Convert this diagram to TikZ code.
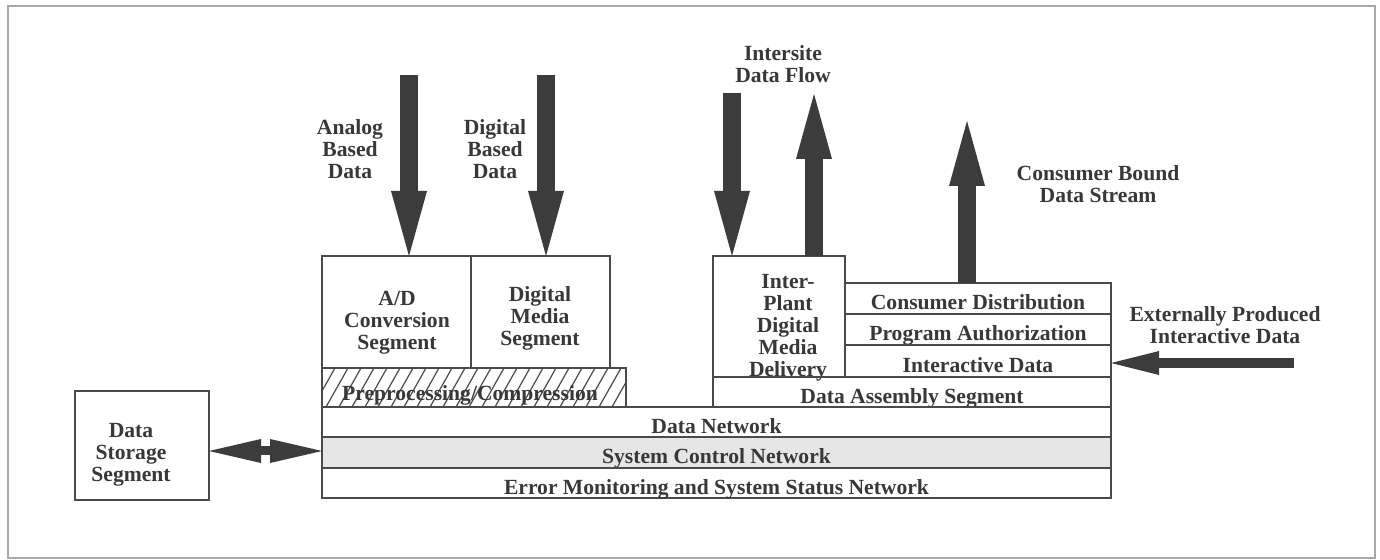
\documentclass[tikz,border=0pt]{standalone}
\usepackage{fontspec}
\setmainfont{Liberation Serif}
\usetikzlibrary{arrows.meta}
\definecolor{ink}{HTML}{383838}
\definecolor{edge}{HTML}{4A4A4A}
\definecolor{framec}{HTML}{A8A8A8}
\definecolor{arrowc}{HTML}{3C3C3C}
\definecolor{shade}{HTML}{E6E6E6}
\begin{document}
\begin{tikzpicture}[x=0.5pt,y=-0.5pt,
  every node/.style={font=\bfseries\fontsize{10.8}{11}\selectfont, text=ink},
  box/.style={draw=edge, line width=0.9pt, inner sep=0pt, outer sep=0pt},
  rowbox/.style={box, text height=11.5pt, text depth=0pt},
  lbl/.style={align=center, inner sep=0pt},
  hatchline/.style={draw=edge, line width=0.6pt},
  bigarrow/.style={draw=arrowc, line width=9pt, -{Triangle[width=18pt,length=32.5pt,line width=0pt]}},
  medarrow/.style={draw=arrowc, line width=5pt, -{Triangle[width=12pt,length=24pt,line width=0pt]}},
  dblarrow/.style={draw=arrowc, line width=4.5pt, {Triangle[width=12pt,length=26pt,line width=0pt]}-{Triangle[width=12pt,length=26pt,line width=0pt]}},
  framebox/.style={draw=framec, line width=1pt}
]
\useasboundingbox (0,0) rectangle (1380,560);
\fill[white] (0,0) rectangle (1380,560);
\draw[framebox] (8,6) rectangle (1375,558);

% left storage
\node[box, minimum width=67pt, minimum height=54.5pt] (ds) at (142,445.5) {};
\node[lbl] (dsT) at (131,455) {Data\\Storage\\Segment};

% input segments
\node[box, minimum width=74.5pt, minimum height=56pt] (ad) at (396.5,312) {};
\node[lbl] (adT) at (397,323) {A/D\\Conversion\\Segment};
\node[box, minimum width=69.5pt, minimum height=56pt] (dm) at (540.5,312) {};
\node[lbl] (dmT) at (540,318) {Digital\\Media\\Segment};

% preprocessing (hatched)
\node[box, minimum width=152pt, minimum height=19.5pt] (pre) at (474,387.5) {};
\begin{scope}
  \clip (pre.south west) rectangle (pre.north east);
  \foreach \h in {0,...,26} \draw[hatchline] (300+\h*13,407) -- (322+\h*13,368);
\end{scope}
\node[inner sep=0pt, anchor=base] (preT) at (470,401) {Preprocessing/Compression};

% inter-plant
\node[box, minimum width=66pt, minimum height=60.5pt] (ip) at (779,316.5) {};
\node[lbl] (ipT) at (788,327.5) {Inter-\\Plant\\Digital\\Media\\Delivery};

% right stack
\node[rowbox, minimum width=133pt, minimum height=15.5pt] (cd) at (978,298.5) {Consumer Distribution};
\node[rowbox, minimum width=133pt, minimum height=15.5pt] (pa) at (978,329.5) {Program Authorization};
\node[rowbox, minimum width=133pt, minimum height=16pt] (id) at (978,361) {Interactive Data};
\node[rowbox, minimum width=199pt, minimum height=15pt] (das) at (912,392) {Data Assembly Segment};

% networks
\node[rowbox, minimum width=394.5pt, minimum height=15pt] (dn) at (716.5,422) {Data Network};
\node[rowbox, fill=shade, minimum width=394.5pt, minimum height=15.5pt] (scn) at (716.5,452.5) {System Control Network};
\node[rowbox, minimum width=394.5pt, minimum height=15pt] (em) at (716.5,483) {Error Monitoring and System Status Network};

% labels
\node[lbl] (analogT) at (350,149) {Analog\\Based\\Data};
\node[lbl] (digitalT) at (495,149) {Digital\\Based\\Data};
\node[lbl] (intersiteT) at (783,64) {Intersite\\Data Flow};
\node[lbl] (consT) at (1098,184) {Consumer Bound\\Data Stream};
\node[lbl] (extT) at (1225,325) {Externally Produced\\Interactive Data};

% arrows
\coordinate (aTop) at (409,75);
\draw[bigarrow] (aTop) -- (aTop |- ad.north);
\coordinate (dTop) at (546,75);
\draw[bigarrow] (dTop) -- (dTop |- dm.north);
\coordinate (iTop) at (732,93);
\draw[bigarrow] (iTop) -- (iTop |- ip.north);
\coordinate (oTop) at (814,94);
\draw[bigarrow] (oTop |- ip.north) -- (oTop);
\coordinate (cTop) at (967,121);
\draw[bigarrow] (cTop |- cd.north) -- (cTop);
\coordinate (eStart) at (1294,363);
\draw[medarrow] (eStart) -- (eStart -| id.east);
\coordinate (dblY) at (0,451);
\draw[dblarrow] (ds.east |- dblY) -- (scn.west |- dblY);
\end{tikzpicture}
\end{document}
